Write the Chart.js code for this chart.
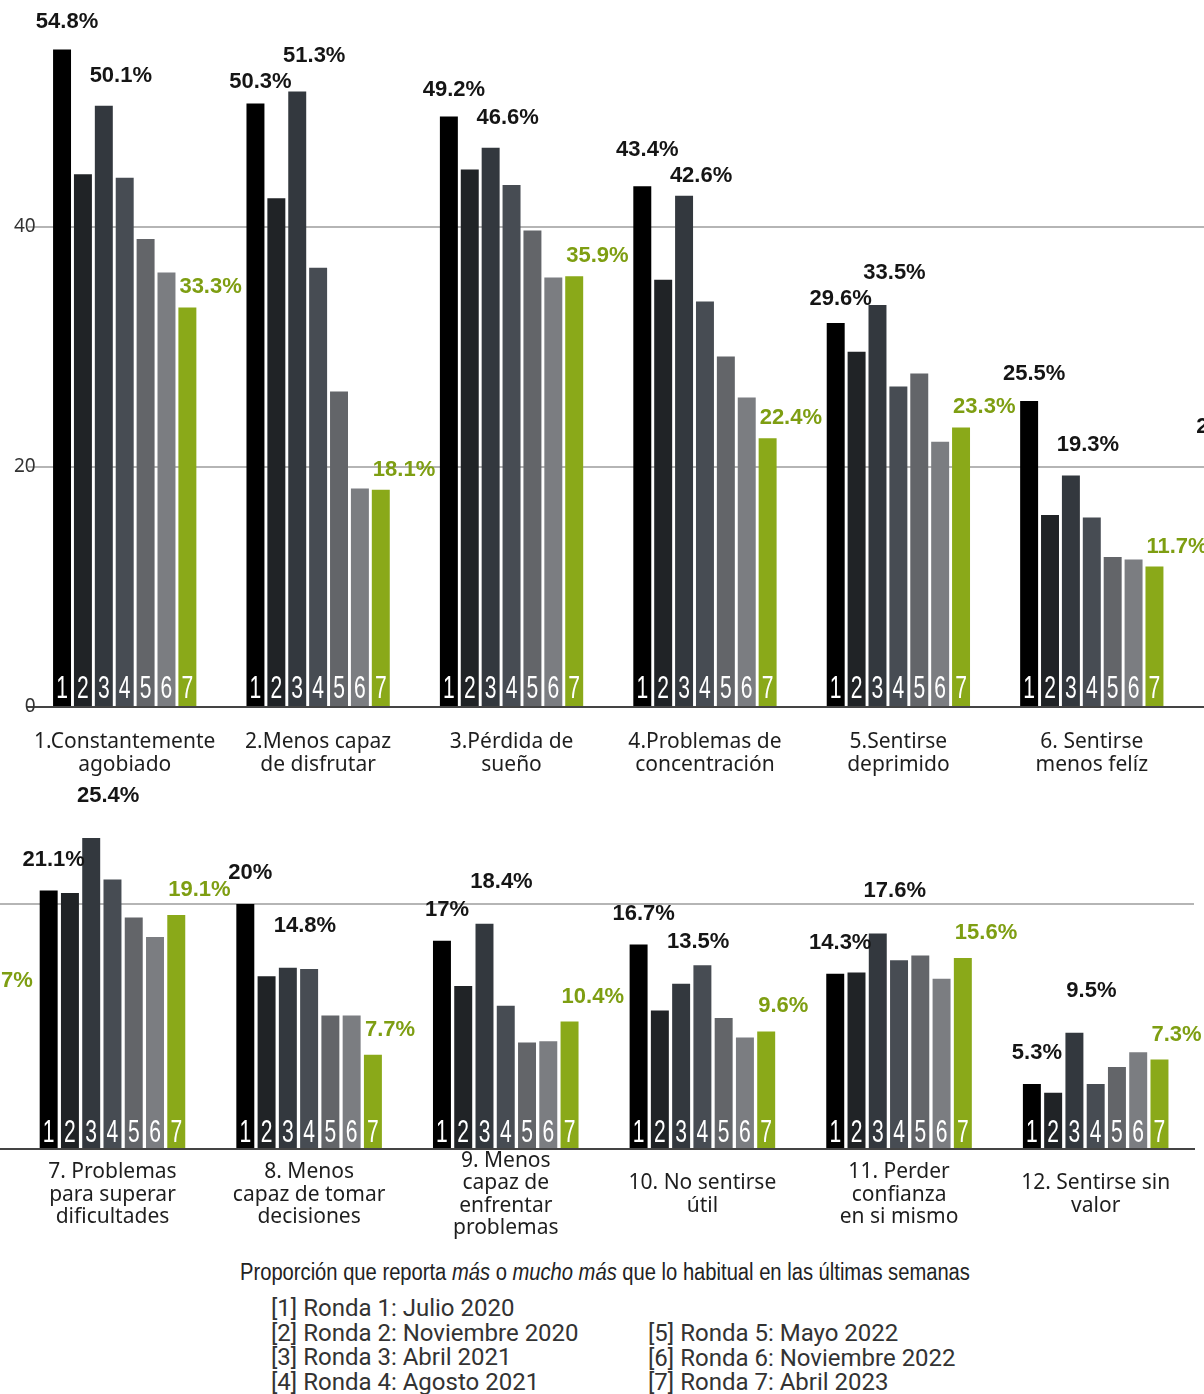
<!DOCTYPE html>
<html>
<head>
<meta charset="utf-8">
<script src="https://cdn.jsdelivr.net/npm/chart.js@4.4.1/dist/chart.umd.min.js"></script>
<style>
  html, body { margin: 0; padding: 0; background: #fff; }
  body { width: 1204px; height: 1394px; position: relative; overflow: hidden; }
  #arriba { position: absolute; left: 0; top: 0; width: 1204px; height: 785px; overflow: hidden; }
  #abajo { position: absolute; left: 0; top: 778px; width: 1204px; height: 476px; overflow: hidden; }
  #arriba canvas { position: absolute; left: 0; top: 0; }
  #abajo canvas { position: absolute; left: -1170px; top: 0; }
  #titulo { position: absolute; left: 240px; top: 1259px; font: 23px "Liberation Sans", sans-serif; color: #222;
            white-space: nowrap; transform: scaleX(0.877); transform-origin: 0 0; }
  .col { position: absolute; font: 24px Roboto, sans-serif; color: #333; line-height: 24.6px; white-space: nowrap; }
</style>
</head>
<body>
<div id="arriba"><canvas id="c1" width="2349" height="785"></canvas></div>
<div id="abajo"><canvas id="c2" width="2394" height="476"></canvas></div>
<div id="titulo">Proporción que reporta <i>más</i> o <i>mucho más</i> que lo habitual en las últimas semanas</div>
<div class="col" id="leyenda1" style="left:271px; top:1296px;"></div>
<div class="col" id="leyenda2" style="left:648px; top:1321px;"></div>
<script>
const categorias = [
  ["1.Constantemente", "agobiado"],
  ["2.Menos capaz", "de disfrutar"],
  ["3.Pérdida de", "sueño"],
  ["4.Problemas de", "concentración"],
  ["5.Sentirse", "deprimido"],
  ["6. Sentirse", "menos felíz"],
  ["7. Problemas", "para superar", "dificultades"],
  ["8. Menos", "capaz de tomar", "decisiones"],
  ["9. Menos", "capaz de", "enfrentar", "problemas"],
  ["10. No sentirse", "útil"],
  ["11. Perder", "confianza", "en si mismo"],
  ["12. Sentirse sin", "valor"]
];

const rondas = [
  "Ronda 1: Julio 2020",
  "Ronda 2: Noviembre 2020",
  "Ronda 3: Abril 2021",
  "Ronda 4: Agosto 2021",
  "Ronda 5: Mayo 2022",
  "Ronda 6: Noviembre 2022",
  "Ronda 7: Abril 2023"
];

// altura de cada barra (%)
const ronda1 = [54.8, 50.3, 49.2, 43.4, 32.0, 25.5, 21.1, 20.0, 17.0, 16.7, 14.3, 5.3];
const ronda2 = [44.4, 42.4, 44.8, 35.6, 29.6, 16.0, 20.9, 14.1, 13.3, 11.3, 14.4, 4.6];
const ronda3 = [50.1, 51.3, 46.6, 42.6, 33.5, 19.3, 25.4, 14.8, 18.4, 13.5, 17.6, 9.5];
const ronda4 = [44.1, 36.6, 43.5, 33.8, 26.7, 15.8, 22.0, 14.7, 11.7, 15.0, 15.4, 5.3];
const ronda5 = [39.0, 26.3, 39.7, 29.2, 27.8, 12.5, 18.9, 10.9, 8.7, 10.7, 15.8, 6.7];
const ronda6 = [36.2, 18.2, 35.8, 25.8, 22.1, 12.3, 17.3, 10.9, 8.8, 9.1, 13.9, 7.9];
const ronda7 = [33.3, 18.1, 35.9, 22.4, 23.3, 11.7, 19.1, 7.7, 10.4, 9.6, 15.6, 7.3];

// cifras impresas sobre las rondas 1, 3 y 7
const publicado1 = [54.8, 50.3, 49.2, 43.4, 29.6, 25.5, 21.1, 20, 17, 16.7, 14.3, 5.3];
const publicado3 = [50.1, 51.3, 46.6, 42.6, 33.5, 19.3, 25.4, 14.8, 18.4, 13.5, 17.6, 9.5];
const publicado7 = [33.3, 18.1, 35.9, 22.4, 23.3, 11.7, 19.1, 7.7, 10.4, 9.6, 15.6, 7.3];

const series = [ronda1, ronda2, ronda3, ronda4, ronda5, ronda6, ronda7];
const colores = ["#000000", "#202326", "#33383e", "#474c53", "#636569", "#7b7d81", "#8aa919"];
const verdeTexto = "#7e9e12";

// leyenda en dos columnas
document.getElementById("leyenda1").innerHTML =
  rondas.slice(0, 4).map((r, i) => "[" + (i + 1) + "] " + r).join("<br>");
document.getElementById("leyenda2").innerHTML =
  rondas.slice(4).map((r, i) => "[" + (i + 5) + "] " + r).join("<br>");

const etiquetas = {
  id: "etiquetas",
  afterDatasetsDraw(chart, args, opts) {
    const ctx = chart.ctx;
    const base = chart.scales.y.getPixelForValue(0);
    ctx.save();
    // numero de ronda dentro de cada barra
    chart.data.datasets.forEach((ds, i) => {
      chart.getDatasetMeta(i).data.forEach(bar => {
        ctx.save();
        ctx.translate(bar.x, base - opts.numeroY);
        ctx.scale(0.68, 1);
        ctx.fillStyle = "#ffffff";
        ctx.font = '31px "Liberation Sans"';
        ctx.textAlign = "center";
        ctx.textBaseline = "alphabetic";
        ctx.fillText(String(i + 1), 0, 0);
        ctx.restore();
      });
    });

    ctx.font = 'bold 22px "Liberation Sans"';
    ctx.textBaseline = "middle";
    const b1 = chart.getDatasetMeta(0).data;
    const b3 = chart.getDatasetMeta(2).data;
    const b7 = chart.getDatasetMeta(6).data;
    b1.forEach((bar, j) => {
      const t1 = publicado1[j] + "%";
      const t3 = publicado3[j] + "%";
      let x1 = bar.x + opts.dx[0], y1 = bar.y + opts.dy[0];
      let x3 = b3[j].x + opts.dx[1], y3 = b3[j].y + opts.dy[1];
      const w1 = ctx.measureText(t1).width, w3 = ctx.measureText(t3).width;
      // separar cifras que se pisan
      if (Math.abs(x3 - x1) < (w1 + w3) / 2 + 2 && Math.abs(y1 - y3) < 26) {
        const mid = (y1 + y3) / 2;
        if (y1 >= y3) { y1 = mid + 13; y3 = mid - 13; } else { y1 = mid - 13; y3 = mid + 13; }
      }
      ctx.fillStyle = "#151515";
      ctx.textAlign = "center";
      ctx.fillText(t1, x1, y1);
      ctx.fillText(t3, x3, y3);
      const g = b7[j];
      ctx.fillStyle = verdeTexto;
      ctx.textAlign = "left";
      ctx.fillText(publicado7[j] + "%", g.x - g.width / 2 + 1, g.y + opts.dy[2]);
    });
    ctx.restore();
  }
};

function crear(id, cfg) {
  return new Chart(document.getElementById(id), {
    type: "bar",
    data: {
      labels: categorias,
      datasets: series.map((d, i) => ({
        label: rondas[i],
        data: d,
        backgroundColor: colores[i],
        borderWidth: 0,
        categoryPercentage: cfg.cp,
        barPercentage: cfg.bp
      }))
    },
    options: {
      responsive: false,
      animation: false,
      layout: { padding: { top: cfg.top, left: 0, right: cfg.right, bottom: 0 } },
      plugins: {
        legend: { display: false },
        tooltip: { enabled: false },
        etiquetas: { dx: [5, 17], dy: cfg.dy, numeroY: cfg.numeroY }
      },
      scales: {
        x: {
          offset: true,
          grid: { display: false, drawTicks: false },
          border: { display: true, color: "#444444", width: 2 },
          afterFit: s => { s.height = cfg.xAlto; },
          ticks: {
            autoSkip: false,
            maxRotation: 0,
            padding: cfg.xPad,
            crossAlign: "center",
            color: "#1e1e1e",
            font: { family: "Noto Sans", size: 21, lineHeight: 1.07 }
          }
        },
        y: {
          min: 0,
          max: cfg.max,
          afterFit: s => { s.width = cfg.yAncho; },
          border: { display: false },
          grid: {
            drawTicks: false,
            lineWidth: 2,
            color: c => (c.tick && c.tick.value === 0 ? "rgba(0,0,0,0)" : "#b5b5b5")
          },
          ticks: {
            display: cfg.yTicks,
            mirror: true,
            crossAlign: "far",
            stepSize: 20,
            includeBounds: false,
            padding: -14,
            color: "#333333",
            font: { family: "Noto Sans", size: 19 }
          }
        }
      }
    },
    plugins: [etiquetas]
  });
}

crear("c1", { cp: 0.756, bp: 0.86, top: 23, right: 0, max: 57, xAlto: 78, xPad: 13, yAncho: 28, yTicks: true, dy: [-27, -30, -20], numeroY: 9 });
crear("c2", { cp: 0.757, bp: 0.845, top: 12, right: 30, max: 29.31, xAlto: 105, xPad: 12, yAncho: 0, yTicks: false, dy: [-31, -42, -25], numeroY: 7 });
</script>
</body>
</html>
